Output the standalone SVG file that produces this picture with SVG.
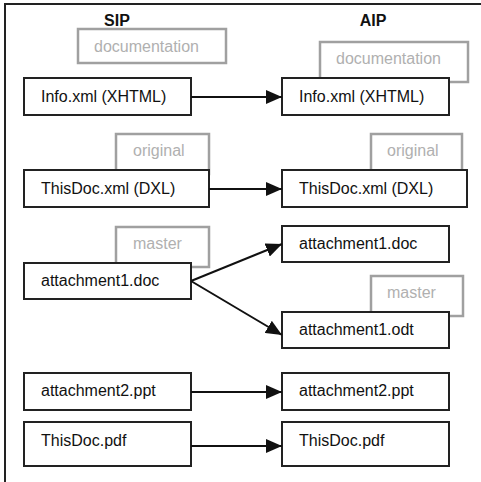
<svg xmlns="http://www.w3.org/2000/svg" width="481" height="482" viewBox="0 0 481 482">
<defs>
<style>
text{font-family:"Liberation Sans",Arial,sans-serif;font-size:16px;fill:#111}
.h{font-weight:bold}
.tag rect{fill:#fff;stroke:#a0a0a0;stroke-width:2.5}
.tag text{fill:#b0b0b0}
.node rect{fill:#fff;stroke:#222;stroke-width:2}
.conn line{stroke:#111;stroke-width:2;marker-end:url(#ah)}
</style>
<marker id="ah" viewBox="0 0 16 14" refX="16" refY="7" markerWidth="16" markerHeight="14" markerUnits="userSpaceOnUse" orient="auto">
<path d="M0,0 L16,7 L0,14 Z" fill="#111"/>
</marker>
</defs>
<rect x="5" y="4" width="500" height="500" fill="#fff" stroke="#222" stroke-width="2"/>
<text class="h" x="117" y="26" text-anchor="middle">SIP</text>
<text class="h" x="373" y="26" text-anchor="middle">AIP</text>

<g id="sip-doc-tag" class="tag"><rect x="78" y="29" width="148" height="34"/><text x="94" y="52">documentation</text></g>
<g id="sip-info" class="node"><rect x="24" y="78" width="167" height="37"/><text x="41" y="102">Info.xml (XHTML)</text></g>
<g id="sip-orig-tag" class="tag"><rect x="116" y="134" width="93" height="40"/><text x="133" y="156">original</text></g>
<g id="sip-thisdoc" class="node"><rect x="24" y="170" width="185" height="37"/><text x="41" y="194">ThisDoc.xml (DXL)</text></g>
<g id="sip-master-tag" class="tag"><rect x="116" y="227" width="93" height="40"/><text x="133" y="249">master</text></g>
<g id="sip-att1" class="node"><rect x="24" y="263" width="167" height="36"/><text x="41" y="286">attachment1.doc</text></g>
<g id="sip-att2" class="node"><rect x="24" y="373" width="167" height="37"/><text x="41" y="396">attachment2.ppt</text></g>
<g id="sip-pdf" class="node"><rect x="24" y="422" width="167" height="44"/><text x="41" y="446">ThisDoc.pdf</text></g>

<g id="aip-doc-tag" class="tag"><rect x="320" y="42" width="148" height="40"/><text x="336" y="64">documentation</text></g>
<g id="aip-info" class="node"><rect x="282" y="78" width="167" height="37"/><text x="299" y="102">Info.xml (XHTML)</text></g>
<g id="aip-orig-tag" class="tag"><rect x="371" y="134" width="91" height="40"/><text x="387" y="156">original</text></g>
<g id="aip-thisdoc" class="node"><rect x="282" y="170" width="185" height="37"/><text x="299" y="194">ThisDoc.xml (DXL)</text></g>
<g id="aip-att1doc" class="node"><rect x="282" y="226" width="167" height="36"/><text x="299" y="249">attachment1.doc</text></g>
<g id="aip-master-tag" class="tag"><rect x="371" y="276" width="92" height="40"/><text x="387" y="298">master</text></g>
<g id="aip-att1odt" class="node"><rect x="282" y="312" width="167" height="36"/><text x="299" y="335">attachment1.odt</text></g>
<g id="aip-att2" class="node"><rect x="282" y="373" width="167" height="37"/><text x="299" y="396">attachment2.ppt</text></g>
<g id="aip-pdf" class="node"><rect x="282" y="422" width="167" height="44"/><text x="299" y="446">ThisDoc.pdf</text></g>

<g id="connectors" class="conn">
<line x1="191" y1="97" x2="282" y2="97"/>
<line x1="209" y1="189" x2="282" y2="189"/>
<line x1="191" y1="281" x2="282" y2="244"/>
<line x1="191" y1="281" x2="282" y2="335"/>
<line x1="191" y1="392" x2="282" y2="392"/>
<line x1="191" y1="446" x2="282" y2="446"/>
</g>
</svg>
